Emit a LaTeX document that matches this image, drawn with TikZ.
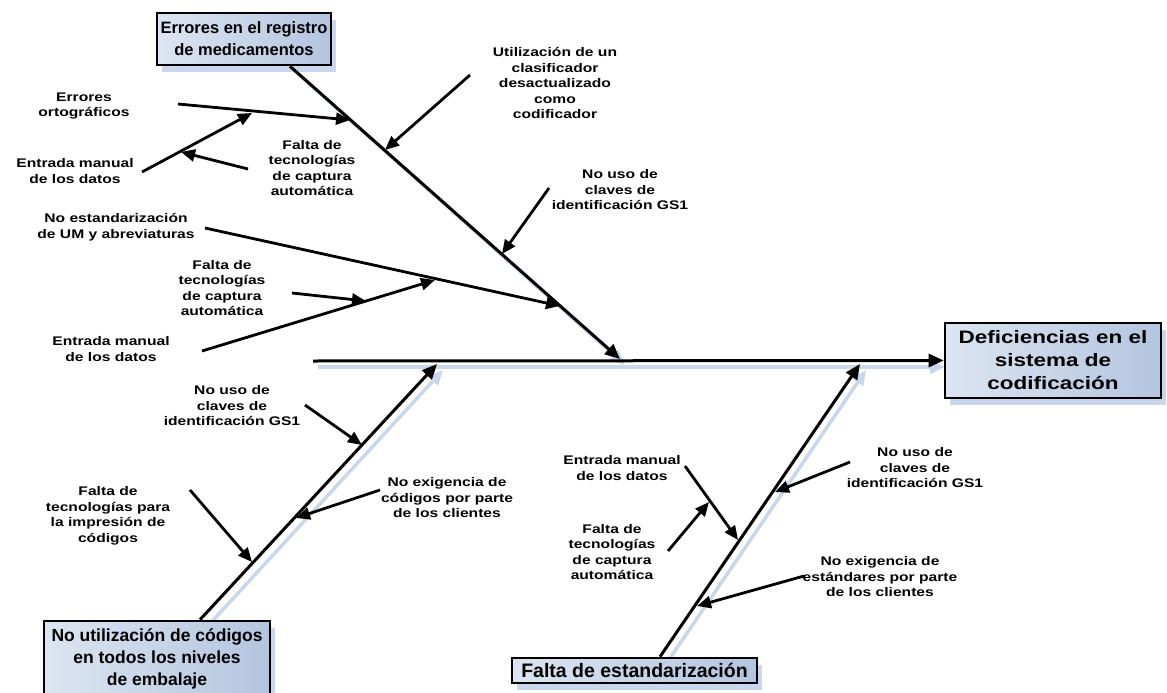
\documentclass[tikz,border=0pt]{standalone}
\usepackage{fontspec}
\setmainfont{Liberation Sans}[FakeStretch=1.25]
\newfontfamily\plainsans{Liberation Sans}
\usetikzlibrary{arrows.meta,shadows}
\definecolor{boxL}{HTML}{DCE5F1}
\definecolor{boxR}{HTML}{B3C5DF}
\definecolor{shad}{HTML}{C8D7EB}
\begin{document}
\begin{tikzpicture}[x=1pt,y=-1pt,
  lbl/.style={font=\bfseries\fontsize{12.5}{15.5}\selectfont, align=center, inner sep=0pt},
  ttl/.style={draw=black, line width=2.6pt, left color=boxL, right color=boxR,
    font=\bfseries\fontsize{18}{23}\selectfont, align=center, inner sep=0pt,
    drop shadow={shadow xshift=5pt, shadow yshift=-7pt, fill=shad, opacity=1}},
  arr/.style={line width=2.8pt, -{Triangle[length=14pt,width=12pt]}},
  bonearr/.style={line width=3pt, -{Triangle[length=15pt,width=13pt]}},
  bshad/.style={line width=3.5pt, draw=shad, -{Triangle[length=15pt,width=13pt]}}]
\useasboundingbox (0,0) rectangle (1167,693);
% key points
\coordinate (sp0) at (313,361);
\coordinate (tb0) at (290,65);  \coordinate (tb1) at (620,359);
\coordinate (bl0) at (200,622); \coordinate (bl1) at (437,364);
\coordinate (br0) at (660,658); \coordinate (br1) at (860,364);
% line shadows
\draw[bshad] ([shift={(5,6)}]sp0) -- (945,367);
\draw[bshad] ([shift={(5,6)}]tb0) -- ([shift={(5,6)}]tb1);
\draw[bshad] ([shift={(6,6)}]bl0) -- ([shift={(6,6)}]bl1);
\draw[bshad] ([shift={(6,6)}]br0) -- ([shift={(6,6)}]br1);
% boxes
\node[ttl, minimum width=174pt, minimum height=52pt,
  font=\plainsans\bfseries\fontsize{16.5}{22}\selectfont] (top) at (244,39) {Errores en el registro\\de medicamentos};
\node[ttl, minimum width=216pt, minimum height=75pt] (eff) at (1053,360.5) {Deficiencias en el\\sistema de\\codificación};
\node[ttl, minimum width=226pt, minimum height=76pt,
  font=\plainsans\bfseries\fontsize{17.5}{22}\selectfont] (nou) at (157,659) {No utilización de códigos\\en todos los niveles\\de embalaje};
\node[ttl, minimum width=245pt, minimum height=25pt,
  font=\plainsans\bfseries\fontsize{19.5}{22}\selectfont] (fal) at (634.5,670.5) {Falta de estandarización};
% spine and main bones
\draw[bonearr] (sp0) -- (eff.west);
\draw[bonearr] (top.south -| tb0) -- (tb1);
\draw[bonearr] (nou.north -| bl0) -- (bl1);
\draw[bonearr] (fal.north -| br0) -- (br1);
% labels
\node[lbl] (l1) at (84,106) {Errores\\ortográficos};
\node[lbl] (l2) at (75,171) {Entrada manual\\de los datos};
\node[lbl] (l3) at (312,168) {Falta de\\tecnologías\\de captura\\automática};
\node[lbl] (l4) at (555,83) {Utilización de un\\clasificador\\desactualizado\\como\\codificador};
\node[lbl] (l5) at (620,190) {No uso de\\claves de\\identificación GS1};
\node[lbl] (l6) at (116,227) {No estandarización\\de UM y abreviaturas};
\node[lbl] (l7) at (222,288) {Falta de\\tecnologías\\de captura\\automática};
\node[lbl] (l8) at (111,349) {Entrada manual\\de los datos};
\node[lbl] (l9) at (232,406) {No uso de\\claves de\\identificación GS1};
\node[lbl] (l10) at (447,498) {No exigencia de\\códigos por parte\\de los clientes};
\node[lbl] (l11) at (108,516) {Falta de\\tecnologías para\\la impresión de\\códigos};
\node[lbl] (l12) at (622,468) {Entrada manual\\de los datos};
\node[lbl] (l13) at (612,552) {Falta de\\tecnologías\\de captura\\automática};
\node[lbl] (l14) at (915,468) {No uso de\\claves de\\identificación GS1};
\node[lbl] (l15) at (880,577) {No exigencia de\\estándares por parte\\de los clientes};
% sub arrows, top group
\coordinate (a1s) at (178,104); \coordinate (a1e) at (350,120);
\draw[arr] (a1s) -- (a1e);
\coordinate (e1s) at (142,172); \coordinate (e1e) at (252,113);
\draw[arr] (e1s) -- (e1e);
\coordinate (f1s) at (248,169); \coordinate (f1e) at (181,152);
\draw[arr] (f1s) -- (f1e);
\coordinate (u1s) at (470,75); \coordinate (u1e) at (385,150);
\draw[arr] (u1s) -- (u1e);
\coordinate (g1s) at (549,188); \coordinate (g1e) at (502,254);
\draw[arr] (g1s) -- (g1e);
\coordinate (n1s) at (205,228); \coordinate (n1e) at (560,306);
\draw[arr] (n1s) -- (n1e);
\coordinate (m1s) at (202,351); \coordinate (m1e) at (435,280);
\draw[arr] (m1s) -- (m1e);
\coordinate (k1s) at (292,293); \coordinate (k1e) at (366,301);
\draw[arr] (k1s) -- (k1e);
% bottom-left group
\coordinate (g2s) at (305,405); \coordinate (g2e) at (362,445);
\draw[arr] (g2s) -- (g2e);
\coordinate (x2s) at (380,490); \coordinate (x2e) at (296,518);
\draw[arr] (x2s) -- (x2e);
\coordinate (p2s) at (190,490); \coordinate (p2e) at (252,562);
\draw[arr] (p2s) -- (p2e);
% bottom-right group
\coordinate (e3s) at (685,466); \coordinate (e3e) at (738,540);
\draw[arr] (e3s) -- (e3e);
\coordinate (f3s) at (668,551); \coordinate (f3e) at (709,502);
\draw[arr] (f3s) -- (f3e);
\coordinate (g3s) at (850,462); \coordinate (g3e) at (775,492);
\draw[arr] (g3s) -- (g3e);
\coordinate (x3s) at (804,576); \coordinate (x3e) at (697,606);
\draw[arr] (x3s) -- (x3e);
\end{tikzpicture}
\end{document}
